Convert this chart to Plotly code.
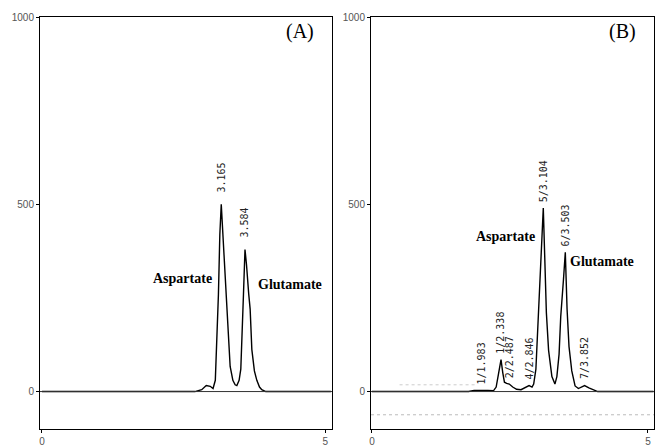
import plotly.graph_objects as go

# ---- Data ----
# Panel A chromatogram (retention time, min ; signal, mAU)
time_a = [0, 1.75, 1.85, 1.95, 2.1, 2.2, 2.7, 2.82, 2.9, 2.97, 3.02, 3.06, 3.09, 3.115, 3.14, 3.165,
          3.19, 3.23, 3.263, 3.29, 3.322, 3.37, 3.41, 3.44, 3.48, 3.51, 3.535, 3.557, 3.584,
          3.61, 3.65, 3.675, 3.705, 3.75, 3.793, 3.84, 3.88, 3.95, 5.1]
signal_a = [0, 0, 2, 1, 2, 0, 0, 5, 16, 14, 8, 30, 140, 260, 420, 500,
            430, 320, 245, 150, 67, 30, 18, 16, 30, 60, 150, 260, 379,
            340, 260, 220, 112, 55, 30, 12, 5, 0, 0]

# Panel B chromatogram
time_b = [0, 1.75, 1.85, 1.983, 2.1, 2.2, 2.25, 2.29, 2.338, 2.37, 2.4, 2.44, 2.487, 2.55, 2.62,
          2.7, 2.78, 2.846, 2.9, 2.93, 2.97, 3.007, 3.05, 3.104, 3.13, 3.16, 3.2, 3.26, 3.315,
          3.35, 3.39, 3.42, 3.47, 3.503, 3.535, 3.57, 3.62, 3.68, 3.74, 3.8, 3.852, 3.93, 4.0, 4.09, 5.1]
signal_b = [0, 0, 3, 4, 3, 2, 12, 45, 85, 50, 25, 22, 20, 12, 6,
            5, 10, 16, 12, 20, 60, 180, 350, 490, 360, 210, 110, 40, 20,
            40, 100, 200, 300, 372, 220, 120, 55, 15, 8, 12, 16, 10, 6, 0, 0]

labels_a_t = [3.165, 3.584]
labels_a_y = [500, 379]
labels_a_txt = ["3.165", "3.584"]

labels_b_t = [1.983, 2.338, 2.487, 2.846, 3.104, 3.503, 3.852]
labels_b_y = [4, 85, 20, 16, 490, 372, 16]
labels_b_txt = ["1/1.983", "1/2.338", "2/2.487", "4/2.846", "5/3.104", "6/3.503", "7/3.852"]

y_ticks = [0, 500, 1000]
x_ticks = [0, 5]

# ---- Figure ----
fig = go.Figure()
fig.add_trace(go.Scatter(x=time_a, y=signal_a, mode="lines", xaxis="x", yaxis="y",
                         line=dict(color="black", width=1.4), hoverinfo="skip"))
fig.add_trace(go.Scatter(x=time_b, y=signal_b, mode="lines", xaxis="x2", yaxis="y2",
                         line=dict(color="black", width=1.4), hoverinfo="skip"))

W, H = 660, 448
ax_common = dict(showgrid=False, zeroline=False, showline=True, linecolor="black", linewidth=1,
                 mirror=True, ticks="outside", ticklen=3, tickcolor="black",
                 tickfont=dict(family="Liberation Sans, Arial", size=10, color="#555555"),
                 automargin=False)

fig.update_layout(
    width=W, height=H, margin=dict(l=0, r=0, t=0, b=0),
    paper_bgcolor="white", plot_bgcolor="white", showlegend=False,
    xaxis=dict(domain=[40 / W, 332 / W], range=[-0.035, 5.12], tickvals=x_ticks, anchor="y", **ax_common),
    yaxis=dict(domain=[19 / H, 431 / H], range=[-100, 1000], tickvals=y_ticks, anchor="x", **ax_common),
    xaxis2=dict(domain=[371 / W, 654 / W], range=[-0.018, 5.11], tickvals=x_ticks, anchor="y2", **ax_common),
    yaxis2=dict(domain=[19 / H, 431 / H], range=[-100, 1000], tickvals=y_ticks, anchor="x2", **ax_common),
)

# baseline at zero in both panels
for xr, yr in (("x", "y"), ("x2", "y2")):
    fig.add_shape(type="line", xref=xr + " domain", yref=yr, x0=0, x1=1, y0=0, y1=0,
                  line=dict(color="#333333", width=1))
fig.add_shape(type="line", xref="x2 domain", yref="y2", x0=0, x1=1, y0=-62, y1=-62,
              line=dict(color="#bbbbbb", width=1, dash="dot"))
fig.add_shape(type="line", xref="x2", yref="y2", x0=0.5, x1=1.9, y0=18, y1=18,
              line=dict(color="#cccccc", width=1, dash="dot"))

peak_font = dict(family="DejaVu Sans Mono, monospace", size=10, color="#222222")
for t, v, s in zip(labels_a_t, labels_a_y, labels_a_txt):
    fig.add_annotation(x=t, y=v, xref="x", yref="y", text=s, textangle=-90, showarrow=False,
                       xanchor="center", yanchor="bottom", yshift=10, font=peak_font)
for t, v, s in zip(labels_b_t, labels_b_y, labels_b_txt):
    fig.add_annotation(x=t, y=v, xref="x2", yref="y2", text=s, textangle=-90, showarrow=False,
                       xanchor="center", yanchor="bottom", yshift=4, font=peak_font)

serif = "Liberation Serif, Times New Roman, serif"
big = dict(family=serif, size=20, color="black")
name_font = dict(family=serif, size=14, color="black")
texts = [
    (300, 32, "(A)", big),
    (622, 32, "(B)", big),
    (182, 278, "<b>Aspartate</b>", name_font),
    (290, 284, "<b>Glutamate</b>", name_font),
    (505, 237, "<b>Aspartate</b>", name_font),
    (602, 261, "<b>Glutamate</b>", name_font),
]
for px, py, s, f in texts:
    fig.add_annotation(x=px / W, y=1 - py / H, xref="paper", yref="paper", text=s, showarrow=False,
                       xanchor="center", yanchor="middle", font=f)

fig.write_html("out.html")
